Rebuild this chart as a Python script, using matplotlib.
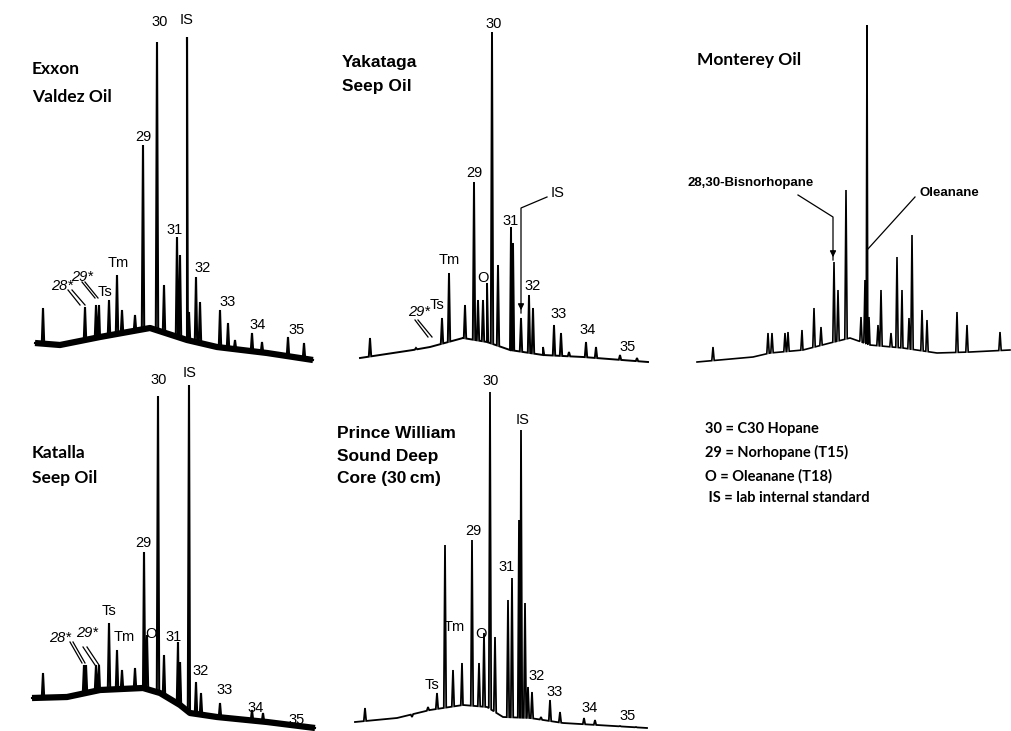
import numpy as np
import matplotlib
matplotlib.use("Agg")
import matplotlib.pyplot as plt

# ------------------------------------------------------------------
# Data (retention position in arbitrary scan units, response in arbitrary units)
# ------------------------------------------------------------------
# Exxon Valdez Oil
exxon_base_rt = [5, 30, 70, 120, 157, 187, 237, 283]
exxon_base_int = [27, 25, 33, 42, 30, 23, 17, 10]
exxon_peak_rt = [13, 55, 66, 69, 79, 87, 92, 105, 113, 127, 134, 147, 150, 157,
                 159, 166, 170, 190, 198, 205, 222, 232, 258, 274]
exxon_peak_int = [62, 63, 65, 65, 70, 95, 60, 55, 225, 328, 85, 133, 115, 333,
                  58, 93, 68, 60, 47, 30, 37, 28, 33, 27]
exxon_labels = ["30", "IS", "29", "31", "Tm", "32", "33", "34", "35", "Ts"]
exxon_label_rt = [130, 157, 113, 145, 88, 173, 198, 228, 267, 75]
exxon_label_int = [348, 350, 233, 140, 107, 102, 68, 45, 40, 78]
exxon_star_labels = ["28*", "29*"]
exxon_star_rt = [32, 52]
exxon_star_int = [84, 93]

# Yakataga Seep Oil
yak_base_rt = [5, 58, 75, 108, 132, 155, 188, 228, 293]
yak_base_int = [12, 20, 23, 32, 28, 20, 15, 13, 8]
yak_peak_rt = [15, 61, 87, 94, 110, 119, 123, 128, 132, 137, 143, 156, 158, 166,
               174, 178, 188, 199, 206, 214, 231, 241, 265, 282]
yak_peak_int = [32, 22, 52, 97, 65, 188, 70, 70, 87, 338, 105, 143, 127, 52,
                75, 62, 23, 45, 37, 18, 28, 23, 15, 12]
yak_labels = ["30", "29", "IS", "31", "Tm", "O", "32", "33", "34", "35", "Ts"]
yak_label_rt = [139, 119, 203, 156, 94, 128, 178, 204, 233, 273, 82]
yak_label_int = [346, 197, 177, 149, 110, 92, 84, 56, 40, 23, 65]
yak_star_labels = ["29*"]
yak_star_rt = [64]
yak_star_int = [58]

# Monterey Oil
mont_base_rt = [7, 63, 80, 113, 140, 160, 180, 213, 247, 280, 320]
mont_base_int = [8, 13, 17, 20, 27, 32, 25, 22, 17, 18, 20]
mont_peak_rt = [23, 78, 82, 95, 98, 112, 124, 131, 144, 148, 156, 171, 175, 177,
                179, 188, 191, 201, 207, 212, 219, 222, 232, 237, 267, 277, 310]
mont_peak_int = [23, 37, 37, 37, 38, 40, 62, 43, 108, 80, 180, 53, 90, 345,
                 53, 45, 80, 37, 113, 80, 52, 135, 60, 50, 58, 45, 38]

# Katalla Seep Oil
kat_base_rt = [2, 37, 70, 113, 130, 150, 160, 187, 237, 285]
kat_base_int = [33, 34, 41, 43, 38, 26, 18, 14, 9, 3]
kat_peak_rt = [13, 54, 56, 66, 69, 79, 87, 92, 105, 114, 117, 128, 134, 148,
               150, 159, 166, 171, 190, 222, 233]
kat_peak_int = [58, 66, 66, 66, 66, 108, 81, 61, 63, 179, 96, 335, 76, 89,
                69, 346, 49, 38, 28, 21, 18]
kat_labels = ["30", "IS", "29", "Ts", "Tm", "O", "31", "32", "33", "34", "35"]
kat_label_rt = [129, 160, 113, 79, 94, 121, 144, 171, 195, 226, 267]
kat_label_int = [351, 358, 188, 120, 94, 97, 94, 60, 41, 23, 11]
kat_star_labels = ["28*", "29*"]
kat_star_rt = [30, 57]
kat_star_int = [93, 98]

# Prince William Sound Deep Core (30 cm)
pws_base_rt = [5, 47, 80, 113, 137, 153, 180, 213, 247, 297]
pws_base_int = [9, 13, 21, 26, 24, 14, 13, 8, 6, 3]
pws_peak_rt = [15, 62, 78, 87, 95, 103, 112, 122, 129, 134, 140, 145, 158, 162,
               169, 171, 175, 178, 182, 191, 200, 210, 234, 245, 270, 286]
pws_peak_int = [23, 14, 24, 38, 186, 61, 68, 191, 68, 98, 339, 94, 131, 153,
                211, 301, 128, 44, 39, 14, 31, 19, 13, 11, 5, 4]
pws_labels = ["30", "IS", "29", "31", "Tm", "O", "Ts", "32", "33", "34", "35"]
pws_label_rt = [141, 173, 123, 157, 104, 131, 82, 187, 205, 240, 278]
pws_label_int = [350, 311, 200, 164, 104, 97, 46, 55, 39, 23, 15]

legend_lines = ["30 = C30 Hopane", "29 = Norhopane (T15)",
                "O = Oleanane (T18)", " IS = lab internal standard"]

# ------------------------------------------------------------------
# Layout
# ------------------------------------------------------------------
FW, FH = 1011, 731
fig = plt.figure(figsize=(FW / 100, FH / 100), dpi=100)
fig.patch.set_facecolor("white")

LABEL_FONT = "Liberation Sans"
CAL_FONT = "Lato"
PEAK_FS = 10.5


def make_axes(x0, ytop, x1, ybot):
    ax = fig.add_axes([x0 / FW, 1 - ybot / FH, (x1 - x0) / FW, (ybot - ytop) / FH])
    ax.set_xlim(0, x1 - x0)
    ax.set_ylim(0, ybot - ytop)
    ax.axis("off")
    return ax


def draw_trace(ax, base_rt, base_int, peak_rt, peak_int, hw=1.2, lw=1.3, noise_lw=None):
    base_rt = np.asarray(base_rt, float)
    base_int = np.asarray(base_int, float)
    xs = list(base_rt)
    ys = list(base_int)
    for rt, h in zip(peak_rt, peak_int):
        for dx, val in ((-hw, None), (0, h), (hw, None)):
            x = rt + dx
            xs.append(x)
            ys.append(np.interp(x, base_rt, base_int) if val is None else val)
    order = np.argsort(xs, kind="stable")
    xs = np.asarray(xs)[order]
    ys = np.asarray(ys)[order]
    if noise_lw:
        ax.plot(base_rt, base_int, color="black", lw=noise_lw,
                solid_capstyle="butt", solid_joinstyle="round")
    ax.plot(xs, ys, color="black", lw=lw, solid_joinstyle="miter")


def draw_labels(ax, labels, rts, ints, italic=False, size=PEAK_FS):
    for t, x, y in zip(labels, rts, ints):
        ax.text(x, y, t, ha="center", va="center", fontsize=size,
                family=LABEL_FONT, style="italic" if italic else "normal",
                color="black", clip_on=False)


def leader(ax, xs, ys, lw=0.9, arrow=False):
    ax.plot(xs, ys, color="black", lw=lw, clip_on=False)
    if arrow:
        ax.annotate("", xy=(xs[-1], ys[-1]), xytext=(xs[-1], ys[-1] + 12),
                    arrowprops=dict(arrowstyle="-|>", color="black", lw=0.9,
                                    mutation_scale=9), annotation_clip=False)


# Panel 1: Exxon Valdez
ax1 = make_axes(30, 10, 320, 370)
draw_trace(ax1, exxon_base_rt, exxon_base_int, exxon_peak_rt, exxon_peak_int,
           lw=1.5, noise_lw=4.5)
draw_labels(ax1, exxon_labels, exxon_label_rt, exxon_label_int)
draw_labels(ax1, exxon_star_labels, exxon_star_rt, exxon_star_int, italic=True)
leader(ax1, [38, 50], [80, 65]); leader(ax1, [42, 55], [80, 65])
leader(ax1, [52, 65], [88, 72]); leader(ax1, [55, 68], [88, 72])
ax1.text(2, 301, "Exxon", ha="left", va="center", fontsize=12.5,
         family=CAL_FONT, weight="bold")
ax1.text(2, 273, "Valdez Oil", ha="left", va="center", fontsize=12.5,
         family=CAL_FONT, weight="bold")

# Panel 2: Yakataga
ax2 = make_axes(355, 10, 650, 370)
draw_trace(ax2, yak_base_rt, yak_base_int, yak_peak_rt, yak_peak_int, lw=1.4)
draw_labels(ax2, yak_labels, yak_label_rt, yak_label_int)
draw_labels(ax2, yak_star_labels, yak_star_rt, yak_star_int, italic=True)
leader(ax2, [60, 73], [50, 33]); leader(ax2, [63, 77], [50, 33])
leader(ax2, [192, 166, 166], [173, 162, 57], arrow=True)
ax2.text(-13, 307, "Yakataga", ha="left", va="center", fontsize=12.5,
         family=LABEL_FONT, weight="bold")
ax2.text(-13, 284, "Seep Oil", ha="left", va="center", fontsize=12.5,
         family=LABEL_FONT, weight="bold")

# Panel 3: Monterey
ax3 = make_axes(690, 10, 1011, 370)
draw_trace(ax3, mont_base_rt, mont_base_int, mont_peak_rt, mont_peak_int, lw=1.2)
ax3.text(-3, 187, "28,30-Bisnorhopane", ha="left", va="center", fontsize=9.5,
         family=LABEL_FONT, weight="bold")
ax3.text(229, 177, "Oleanane", ha="left", va="center", fontsize=9.5,
         family=LABEL_FONT, weight="bold")
leader(ax3, [108, 143, 143], [175, 153, 110], arrow=True)
leader(ax3, [225, 177], [173, 120])
ax3.text(7, 310, "Monterey Oil", ha="left", va="center", fontsize=12.5,
         family=CAL_FONT, weight="bold")

# Panel 4: Katalla
ax4 = make_axes(30, 371, 320, 731)
draw_trace(ax4, kat_base_rt, kat_base_int, kat_peak_rt, kat_peak_int,
           lw=1.5, noise_lw=4.5)
draw_labels(ax4, kat_labels, kat_label_rt, kat_label_int)
draw_labels(ax4, kat_star_labels, kat_star_rt, kat_star_int, italic=True)
leader(ax4, [40, 52], [89, 68]); leader(ax4, [43, 55], [89, 68])
leader(ax4, [53, 65], [84, 66]); leader(ax4, [57, 69], [84, 66])
ax4.text(2, 278, "Katalla", ha="left", va="center", fontsize=12.5,
         family=CAL_FONT, weight="bold")
ax4.text(2, 253, "Seep Oil", ha="left", va="center", fontsize=12.5,
         family=CAL_FONT, weight="bold")

# Panel 5: Prince William Sound
ax5 = make_axes(350, 371, 650, 731)
draw_trace(ax5, pws_base_rt, pws_base_int, pws_peak_rt, pws_peak_int, lw=1.3)
draw_labels(ax5, pws_labels, pws_label_rt, pws_label_int)
for txt, yy in zip(["Prince William", "Sound Deep", "Core (30\u2009cm)"], [298, 275, 253]):
    ax5.text(-13, yy, txt, ha="left", va="center", fontsize=12.5,
             family=[LABEL_FONT, "DejaVu Sans"], weight="bold")

# Legend text
for txt, yy in zip(legend_lines, [429, 452, 476, 498]):
    fig.text(705 / FW, 1 - yy / FH, txt, ha="left", va="center", fontsize=10.5,
             family=CAL_FONT, weight="bold")

fig.savefig("out.png", dpi=100, facecolor="white")
